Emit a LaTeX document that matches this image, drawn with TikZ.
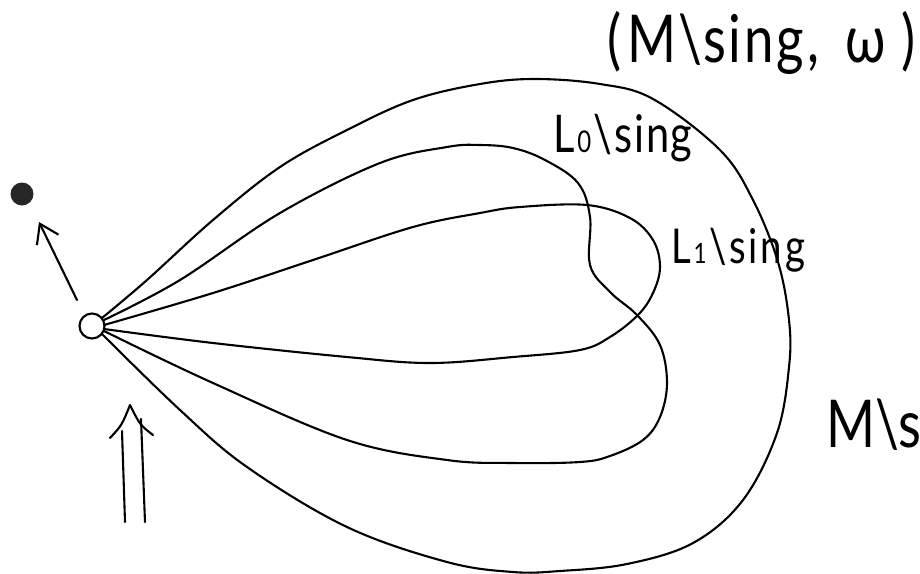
\documentclass[tikz,border=0pt]{standalone}
\usepackage{fontspec}
\setmainfont{Lato}
\newfontfamily\handfont[FakeStretch=0.8]{Lato}
\usetikzlibrary{arrows.meta}
\tikzset{
  pen/.style={line width=2.1pt, black, line cap=round, line join=round},
  curve/.style={pen, smooth, tension=0.6},
  hand/.style={inner sep=0pt, outer sep=0pt, font=\handfont},
}
\begin{document}
\begin{tikzpicture}[x=1pt,y=-1pt]
\useasboundingbox (0,0) rectangle (920,573);
\fill[white] (0,0) rectangle (920,573);
\clip (0,0) rectangle (920,573);

% origin circle and dot
\node[draw, circle, pen, minimum size=25pt, inner sep=0pt] (O) at (92,326) {};
\node[fill=black!85, circle, minimum size=23pt, inner sep=0pt] (D) at (22,194) {};

% arrow from origin towards the dot
\coordinate (as) at (77,300);
\coordinate (ae) at (39,222);
\draw[pen, -{Straight Barb[length=18pt, width=24pt, line width=2.1pt]}] (as) -- (ae);

% double arrow
\coordinate (dl0) at (125,522); \coordinate (dl1) at (122,431);
\coordinate (dr0) at (145,522); \coordinate (dr1) at (141,419);
\coordinate (dA) at (130,405); \coordinate (dW1) at (110,438); \coordinate (dW2) at (153,435);
\draw[pen] (dl0) -- (dl1);
\draw[pen] (dr0) -- (dr1);
\draw[pen] (dW1) .. controls (122,425) .. (dA) .. controls (140,425) .. (dW2);

% outer curve M\sing
\draw[curve] plot coordinates {(102,318) (147,280) (213,220) (280,167) (347,130) (413,100) (480,84) (535,79) (600,84) (653,99) (720,150) (753,200) (778,262) (789,320) (789,367) (777,433) (743,500) (693,543) (627,564) (560,571) (513,572) (447,562) (347,527) (247,467) (180,410) (102,334)};

% L0 curve
\draw[curve] plot coordinates {(104,320) (180,280) (280,213) (380,163) (447,147) (480,145) (513,148) (545,160) (578,183) (590,217) (590,265) (610,292) (637,315) (660,345) (667,383) (660,417) (643,440) (610,456) (580,462) (513,463) (447,460) (347,440) (213,383) (104,331)};

% L1 curve
\draw[curve] plot coordinates {(104,325) (213,293) (313,260) (413,227) (480,213) (520,207) (587,205) (630,218) (653,240) (660,267) (653,293) (638,315) (610,337) (580,350) (513,357) (430,363) (347,357) (213,343) (104,329)};

% labels
\node[hand, anchor=base west] (t1) at (607,62) {\fontsize{66}{72}\selectfont (\hspace{6pt}M\hspace{2pt}\textbackslash\hspace{1pt}s\hspace{3pt}i\hspace{3pt}n\hspace{3pt}g\hspace{3pt},\hspace{26pt}ω\hspace{16pt})};
\node[hand, anchor=base west] (t2) at (553,152) {\fontsize{52}{56}\selectfont L\hspace{3pt}{\fontsize{30}{30}\selectfont 0}\hspace{2pt}\textbackslash\hspace{2pt}s\hspace{2pt}i\hspace{2pt}n\hspace{1pt}g};
\node[hand, anchor=base west] (t3) at (671,263) {\fontsize{48}{52}\selectfont L\hspace{3pt}{\fontsize{28}{28}\selectfont 1}\hspace{3pt}\textbackslash\hspace{2pt}s\hspace{3pt}i\hspace{3pt}n\hspace{3pt}g};
\node[hand, anchor=base west] (t4) at (826,447) {\fontsize{66}{72}\selectfont M\textbackslash sing};
\end{tikzpicture}
\end{document}
